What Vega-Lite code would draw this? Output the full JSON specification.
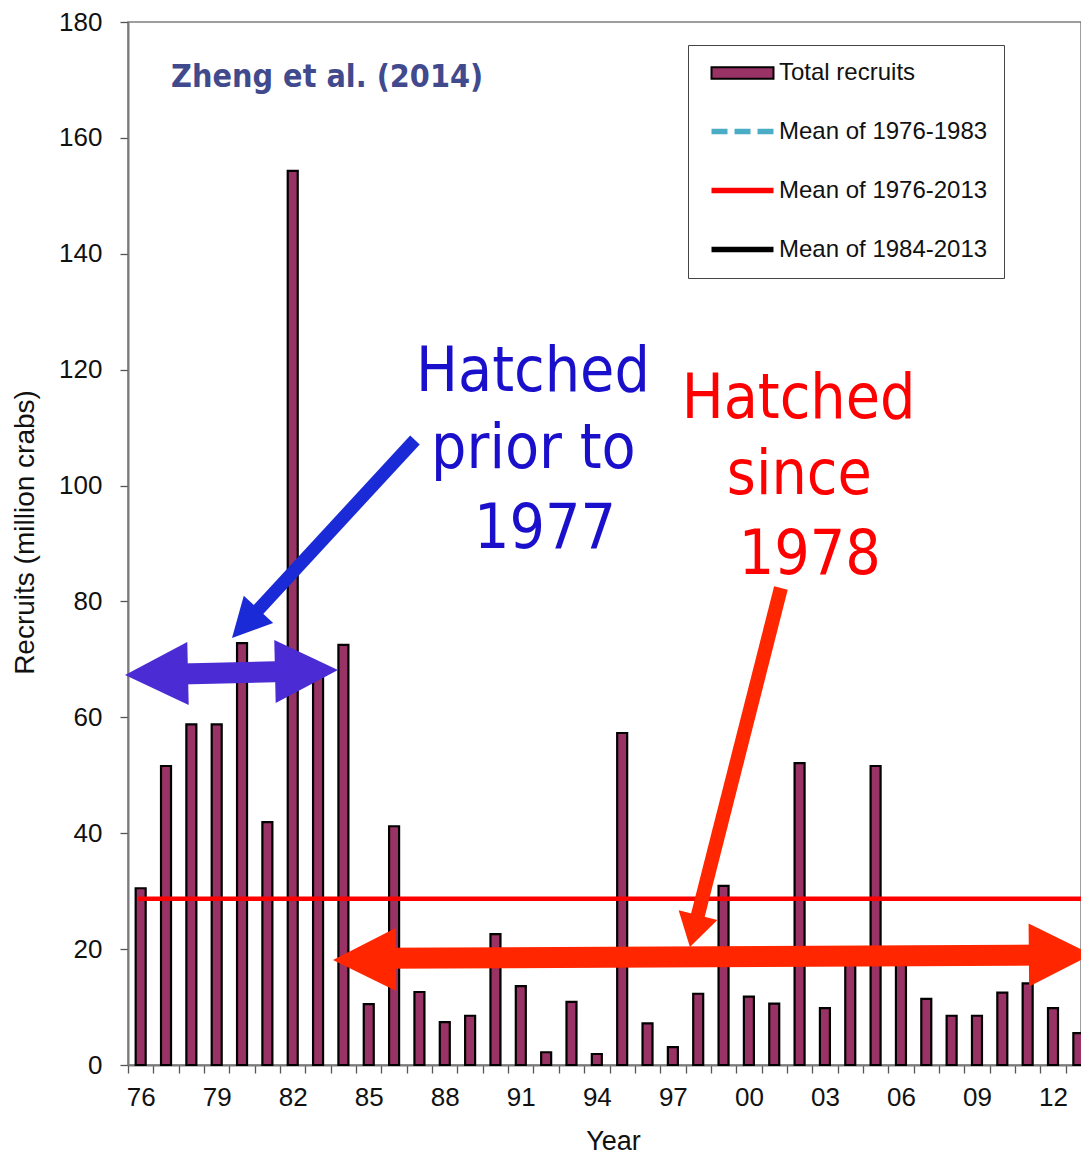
{
  "$schema": "https://vega.github.io/schema/vega-lite/v6.json",
  "width": 953,
  "height": 1043,
  "autosize": "none",
  "padding": {"left": 128, "top": 22, "right": 0, "bottom": 90},
  "background": "white",
  "view": {"stroke": "#7f7f7f", "strokeWidth": 1.5},
  "resolve": {"axis": {"x": "independent"}},
  "datasets": {
    "recruits": [
      {"year": 1976, "recruits": 30.5}, {"year": 1977, "recruits": 51.6}, {"year": 1978, "recruits": 58.8},
      {"year": 1979, "recruits": 58.8}, {"year": 1980, "recruits": 72.8}, {"year": 1981, "recruits": 41.9},
      {"year": 1982, "recruits": 154.3}, {"year": 1983, "recruits": 68.0}, {"year": 1984, "recruits": 72.5},
      {"year": 1985, "recruits": 10.5}, {"year": 1986, "recruits": 41.2}, {"year": 1987, "recruits": 12.6},
      {"year": 1988, "recruits": 7.4}, {"year": 1989, "recruits": 8.5}, {"year": 1990, "recruits": 22.6},
      {"year": 1991, "recruits": 13.6}, {"year": 1992, "recruits": 2.2}, {"year": 1993, "recruits": 10.9},
      {"year": 1994, "recruits": 1.9}, {"year": 1995, "recruits": 57.3}, {"year": 1996, "recruits": 7.2},
      {"year": 1997, "recruits": 3.1}, {"year": 1998, "recruits": 12.3}, {"year": 1999, "recruits": 30.9},
      {"year": 2000, "recruits": 11.8}, {"year": 2001, "recruits": 10.6}, {"year": 2002, "recruits": 52.1},
      {"year": 2003, "recruits": 9.8}, {"year": 2004, "recruits": 19.0}, {"year": 2005, "recruits": 51.6},
      {"year": 2006, "recruits": 18.0}, {"year": 2007, "recruits": 11.4}, {"year": 2008, "recruits": 8.5},
      {"year": 2009, "recruits": 8.5}, {"year": 2010, "recruits": 12.5}, {"year": 2011, "recruits": 14.1},
      {"year": 2012, "recruits": 9.8}, {"year": 2013, "recruits": 5.5}
    ],
    "means": [
      {"series": "Mean of 1976-2013", "start": 1975.9, "end": 2013.5, "value": 28.7}
    ],
    "notes": [
      {"group": "source", "text": "Zheng et al. (2014)", "x": 1977.2, "y": 168.84},
      {"group": "blue", "text": "Hatched", "x": 1991.479, "y": 116.39},
      {"group": "blue", "text": "prior to", "x": 1991.495, "y": 103.03},
      {"group": "blue", "text": "1977", "x": 1991.953, "y": 89.22},
      {"group": "red", "text": "Hatched", "x": 2001.96, "y": 111.66},
      {"group": "red", "text": "since", "x": 2001.99, "y": 98.54},
      {"group": "red", "text": "1978", "x": 2002.4, "y": 84.74}
    ],
    "shafts": [
      {"arrow": "blueH", "x": 1977.157, "y": 67.44, "x2": 1982.089, "y2": 67.94},
      {"arrow": "blueD", "x": 1986.823, "y": 107.86, "x2": 1980.629, "y2": 78.52},
      {"arrow": "redD", "x": 2001.264, "y": 82.32, "x2": 1997.969, "y2": 25.54},
      {"arrow": "redH", "x": 1985.442, "y": 18.41, "x2": 2011.679, "y2": 18.98}
    ],
    "heads": [
      {"head": "blueL", "x": 1975.382, "y": 67.31},
      {"head": "blueR", "x": 1983.785, "y": 68.17},
      {"head": "blueD", "x": 1979.604, "y": 73.69},
      {"head": "redD", "x": 1997.673, "y": 20.36},
      {"head": "redL", "x": 1983.588, "y": 18.12},
      {"head": "redR", "x": 2013.533, "y": 19.07}
    ],
    "yearLabels": [
      {"year": 1976}, {"year": 1979}, {"year": 1982}, {"year": 1985}, {"year": 1988}, {"year": 1991},
      {"year": 1994}, {"year": 1997}, {"year": 2000}, {"year": 2003}, {"year": 2006}, {"year": 2009}, {"year": 2012}
    ],
    "legendEntries": []
  },
  "layer": [
    {
      "data": {"name": "recruits"},
      "mark": {"type": "bar", "size": 10, "fill": "#993366", "stroke": "#000000", "strokeWidth": 2.2},
      "encoding": {
        "x": {
          "field": "year", "type": "quantitative",
          "scale": {"domain": [1975.5, 2013.105], "nice": false, "zero": false, "padding": 0},
          "axis": {
            "orient": "bottom",
            "title": "Year",
            "values": [1975.5, 1976.5, 1977.5, 1978.5, 1979.5, 1980.5, 1981.5, 1982.5, 1983.5, 1984.5, 1985.5, 1986.5, 1987.5, 1988.5, 1989.5, 1990.5, 1991.5, 1992.5, 1993.5, 1994.5, 1995.5, 1996.5, 1997.5, 1998.5, 1999.5, 2000.5, 2001.5, 2002.5, 2003.5, 2004.5, 2005.5, 2006.5, 2007.5, 2008.5, 2009.5, 2010.5, 2011.5, 2012.5],
            "labels": false,
            "tickSize": 8,
            "tickColor": "#555555",
            "tickWidth": 1.3,
            "domainColor": "#7a7a7a",
            "domainWidth": 2,
            "grid": false,
            "titleFont": "Liberation Sans",
            "titleFontSize": 27,
            "titleFontWeight": "normal",
            "titleColor": "#111111",
            "titleX": 485,
            "titleY": 84,
            "titleBaseline": "alphabetic",
            "titleAlign": "center"
          }
        },
        "y": {
          "field": "recruits", "type": "quantitative",
          "scale": {"domain": [0, 180], "nice": false, "padding": 0},
          "axis": {
            "title": "Recruits (million crabs)",
            "values": [0, 20, 40, 60, 80, 100, 120, 140, 160, 180],
            "labelFont": "Liberation Sans",
            "labelFontSize": 26,
            "labelColor": "#111111",
            "labelPadding": 18,
            "tickSize": 8,
            "tickColor": "#555555",
            "tickWidth": 1.3,
            "domainColor": "#7a7a7a",
            "domainWidth": 2,
            "grid": false,
            "titleFont": "Liberation Sans",
            "titleFontSize": 28,
            "titleFontWeight": "normal",
            "titleColor": "#111111",
            "titleAngle": 270,
            "titleX": -103,
            "titleY": 510,
            "titleAlign": "center",
            "titleBaseline": "middle"
          }
        }
      }
    },
    {
      "data": {"name": "legendEntries"},
      "mark": {"type": "point", "opacity": 1},
      "encoding": {
        "fill": {
          "field": "series", "type": "nominal",
          "scale": {"domain": ["Total recruits", "Mean of 1976-1983", "Mean of 1976-2013", "Mean of 1984-2013"], "range": ["#993366", "transparent", "transparent", "transparent"]},
          "legend": {"title": null, "orient": "none", "legendX": 560, "legendY": 23, "padding": 16, "strokeColor": "#444444", "fillColor": "white", "symbolSize": 427, "symbolOffset": 25, "labelOffset": 23, "rowPadding": 33, "labelFont": "Liberation Sans", "labelFontSize": 24, "labelColor": "#111111", "labelLimit": 400}
        },
        "stroke": {
          "field": "series", "type": "nominal",
          "scale": {"domain": ["Total recruits", "Mean of 1976-1983", "Mean of 1976-2013", "Mean of 1984-2013"], "range": ["#000000", "#4BACC6", "#FF0000", "#000000"]},
          "legend": {"title": null, "orient": "none", "legendX": 560, "legendY": 23, "padding": 16, "strokeColor": "#444444", "fillColor": "white", "symbolSize": 427, "symbolOffset": 25, "labelOffset": 23, "rowPadding": 33, "labelFont": "Liberation Sans", "labelFontSize": 24, "labelColor": "#111111", "labelLimit": 400}
        },
        "strokeWidth": {
          "field": "series", "type": "nominal",
          "scale": {"type": "ordinal", "domain": ["Total recruits", "Mean of 1976-1983", "Mean of 1976-2013", "Mean of 1984-2013"], "range": [2, 5.5, 5.5, 5.5]},
          "legend": {"title": null, "orient": "none", "legendX": 560, "legendY": 23, "padding": 16, "strokeColor": "#444444", "fillColor": "white", "symbolSize": 427, "symbolOffset": 25, "labelOffset": 23, "rowPadding": 33, "labelFont": "Liberation Sans", "labelFontSize": 24, "labelColor": "#111111", "labelLimit": 400}
        },
        "strokeDash": {
          "field": "series", "type": "nominal",
          "scale": {"domain": ["Total recruits", "Mean of 1976-1983", "Mean of 1976-2013", "Mean of 1984-2013"], "range": [[1, 0], [16, 7], [1, 0], [1, 0]]},
          "legend": {"title": null, "orient": "none", "legendX": 560, "legendY": 23, "padding": 16, "strokeColor": "#444444", "fillColor": "white", "symbolSize": 427, "symbolOffset": 25, "labelOffset": 23, "rowPadding": 33, "labelFont": "Liberation Sans", "labelFontSize": 24, "labelColor": "#111111", "labelLimit": 400}
        },
        "shape": {
          "field": "series", "type": "nominal",
          "scale": {"domain": ["Total recruits", "Mean of 1976-1983", "Mean of 1976-2013", "Mean of 1984-2013"], "range": ["M-3,-0.55H3V0.55H-3Z", "M-3,0H3", "M-3,0H3", "M-3,0H3"]},
          "legend": {"title": null, "orient": "none", "legendX": 560, "legendY": 23, "padding": 16, "strokeColor": "#444444", "fillColor": "white", "symbolSize": 427, "symbolOffset": 25, "labelOffset": 23, "rowPadding": 33, "labelFont": "Liberation Sans", "labelFontSize": 24, "labelColor": "#111111", "labelLimit": 400}
        }
      }
    },
    {
      "data": {"name": "yearLabels"},
      "mark": {"type": "rule", "opacity": 0},
      "encoding": {
        "x": {
          "field": "year", "type": "quantitative",
          "scale": {"domain": [1975.5, 2013.105], "nice": false, "zero": false, "padding": 0},
          "axis": {
            "orient": "bottom",
            "title": null,
            "values": [1976, 1979, 1982, 1985, 1988, 1991, 1994, 1997, 2000, 2003, 2006, 2009, 2012],
            "labelExpr": "slice(toString(datum.value), 2)",
            "ticks": false,
            "domain": false,
            "grid": false,
            "labelFlush": false,
            "labelOverlap": false,
            "labelBound": false,
            "labelAngle": 0,
            "labelFont": "Liberation Sans",
            "labelFontSize": 26,
            "labelColor": "#111111",
            "labelPadding": 19
          }
        }
      }
    },
    {
      "data": {"name": "means"},
      "mark": {"type": "rule", "strokeWidth": 4.5, "strokeCap": "butt", "color": "#FF0000"},
      "encoding": {
        "x": {"field": "start", "type": "quantitative", "scale": {"domain": [1975.5, 2013.105], "nice": false, "zero": false, "padding": 0}, "axis": null},
        "x2": {"field": "end"},
        "y": {"field": "value", "type": "quantitative", "scale": {"domain": [0, 180], "nice": false, "padding": 0}}
      }
    },
    {
      "data": {"name": "shafts"},
      "transform": [{"filter": "datum.arrow == 'blueH'"}],
      "mark": {"type": "rule", "strokeWidth": 21, "strokeCap": "butt", "color": "#4b2bd4"},
      "encoding": {
        "x": {"field": "x", "type": "quantitative", "scale": {"domain": [1975.5, 2013.105], "nice": false, "zero": false, "padding": 0}, "axis": null}, "x2": {"field": "x2"},
        "y": {"field": "y", "type": "quantitative", "scale": {"domain": [0, 180], "nice": false, "padding": 0}}, "y2": {"field": "y2"}
      }
    },
    {
      "data": {"name": "shafts"},
      "transform": [{"filter": "datum.arrow == 'blueD'"}],
      "mark": {"type": "rule", "strokeWidth": 13, "strokeCap": "butt", "color": "#1a2ad6"},
      "encoding": {
        "x": {"field": "x", "type": "quantitative", "scale": {"domain": [1975.5, 2013.105], "nice": false, "zero": false, "padding": 0}, "axis": null}, "x2": {"field": "x2"},
        "y": {"field": "y", "type": "quantitative", "scale": {"domain": [0, 180], "nice": false, "padding": 0}}, "y2": {"field": "y2"}
      }
    },
    {
      "data": {"name": "shafts"},
      "transform": [{"filter": "datum.arrow == 'redD'"}],
      "mark": {"type": "rule", "strokeWidth": 14, "strokeCap": "butt", "color": "#ff2600"},
      "encoding": {
        "x": {"field": "x", "type": "quantitative", "scale": {"domain": [1975.5, 2013.105], "nice": false, "zero": false, "padding": 0}, "axis": null}, "x2": {"field": "x2"},
        "y": {"field": "y", "type": "quantitative", "scale": {"domain": [0, 180], "nice": false, "padding": 0}}, "y2": {"field": "y2"}
      }
    },
    {
      "data": {"name": "shafts"},
      "transform": [{"filter": "datum.arrow == 'redH'"}],
      "mark": {"type": "rule", "strokeWidth": 21, "strokeCap": "butt", "color": "#ff2600"},
      "encoding": {
        "x": {"field": "x", "type": "quantitative", "scale": {"domain": [1975.5, 2013.105], "nice": false, "zero": false, "padding": 0}, "axis": null}, "x2": {"field": "x2"},
        "y": {"field": "y", "type": "quantitative", "scale": {"domain": [0, 180], "nice": false, "padding": 0}}, "y2": {"field": "y2"}
      }
    },
    {
      "data": {"name": "heads"},
      "transform": [{"filter": "datum.head == 'blueL'"}],
      "mark": {"type": "point", "shape": "M0,0L-2,-1L-2,1Z", "size": 3969, "angle": 178.7, "filled": true, "fill": "#4b2bd4", "strokeWidth": 0, "opacity": 1},
      "encoding": {"x": {"field": "x", "type": "quantitative", "scale": {"domain": [1975.5, 2013.105], "nice": false, "zero": false, "padding": 0}, "axis": null}, "y": {"field": "y", "type": "quantitative", "scale": {"domain": [0, 180], "nice": false, "padding": 0}}}
    },
    {
      "data": {"name": "heads"},
      "transform": [{"filter": "datum.head == 'blueR'"}],
      "mark": {"type": "point", "shape": "M0,0L-2,-1L-2,1Z", "size": 3969, "angle": -1.3, "filled": true, "fill": "#4b2bd4", "strokeWidth": 0, "opacity": 1},
      "encoding": {"x": {"field": "x", "type": "quantitative", "scale": {"domain": [1975.5, 2013.105], "nice": false, "zero": false, "padding": 0}, "axis": null}, "y": {"field": "y", "type": "quantitative", "scale": {"domain": [0, 180], "nice": false, "padding": 0}}}
    },
    {
      "data": {"name": "heads"},
      "transform": [{"filter": "datum.head == 'blueD'"}],
      "mark": {"type": "point", "shape": "M0,0L-1.95,-1L-1.95,1Z", "size": 1600, "angle": 132.75, "filled": true, "fill": "#1a2ad6", "strokeWidth": 0, "opacity": 1},
      "encoding": {"x": {"field": "x", "type": "quantitative", "scale": {"domain": [1975.5, 2013.105], "nice": false, "zero": false, "padding": 0}, "axis": null}, "y": {"field": "y", "type": "quantitative", "scale": {"domain": [0, 180], "nice": false, "padding": 0}}}
    },
    {
      "data": {"name": "heads"},
      "transform": [{"filter": "datum.head == 'redD'"}],
      "mark": {"type": "point", "shape": "M0,0L-1.65,-1L-1.65,1Z", "size": 1600, "angle": 104.2, "filled": true, "fill": "#ff2600", "strokeWidth": 0, "opacity": 1},
      "encoding": {"x": {"field": "x", "type": "quantitative", "scale": {"domain": [1975.5, 2013.105], "nice": false, "zero": false, "padding": 0}, "axis": null}, "y": {"field": "y", "type": "quantitative", "scale": {"domain": [0, 180], "nice": false, "padding": 0}}}
    },
    {
      "data": {"name": "heads"},
      "transform": [{"filter": "datum.head == 'redL'"}],
      "mark": {"type": "point", "shape": "M0,0L-2,-1L-2,1Z", "size": 3969, "angle": 179.55, "filled": true, "fill": "#ff2600", "strokeWidth": 0, "opacity": 1},
      "encoding": {"x": {"field": "x", "type": "quantitative", "scale": {"domain": [1975.5, 2013.105], "nice": false, "zero": false, "padding": 0}, "axis": null}, "y": {"field": "y", "type": "quantitative", "scale": {"domain": [0, 180], "nice": false, "padding": 0}}}
    },
    {
      "data": {"name": "heads"},
      "transform": [{"filter": "datum.head == 'redR'"}],
      "mark": {"type": "point", "shape": "M0,0L-2,-1L-2,1Z", "size": 3969, "angle": -0.45, "filled": true, "fill": "#ff2600", "strokeWidth": 0, "opacity": 1},
      "encoding": {"x": {"field": "x", "type": "quantitative", "scale": {"domain": [1975.5, 2013.105], "nice": false, "zero": false, "padding": 0}, "axis": null}, "y": {"field": "y", "type": "quantitative", "scale": {"domain": [0, 180], "nice": false, "padding": 0}}}
    },
    {
      "data": {"name": "notes"},
      "transform": [{"filter": "datum.group == 'source'"}],
      "mark": {"type": "text", "align": "left", "baseline": "alphabetic", "font": "DejaVu Sans Condensed", "fontWeight": "bold", "fontSize": 32, "color": "#414a8c"},
      "encoding": {"x": {"field": "x", "type": "quantitative", "scale": {"domain": [1975.5, 2013.105], "nice": false, "zero": false, "padding": 0}, "axis": null}, "y": {"field": "y", "type": "quantitative", "scale": {"domain": [0, 180], "nice": false, "padding": 0}}, "text": {"field": "text"}}
    },
    {
      "data": {"name": "notes"},
      "transform": [{"filter": "datum.group == 'blue'"}],
      "mark": {"type": "text", "align": "center", "baseline": "alphabetic", "font": "DejaVu Sans Condensed", "fontSize": 62, "color": "#1a0fcb"},
      "encoding": {"x": {"field": "x", "type": "quantitative", "scale": {"domain": [1975.5, 2013.105], "nice": false, "zero": false, "padding": 0}, "axis": null}, "y": {"field": "y", "type": "quantitative", "scale": {"domain": [0, 180], "nice": false, "padding": 0}}, "text": {"field": "text"}}
    },
    {
      "data": {"name": "notes"},
      "transform": [{"filter": "datum.group == 'red'"}],
      "mark": {"type": "text", "align": "center", "baseline": "alphabetic", "font": "DejaVu Sans Condensed", "fontSize": 62, "color": "#ff0000"},
      "encoding": {"x": {"field": "x", "type": "quantitative", "scale": {"domain": [1975.5, 2013.105], "nice": false, "zero": false, "padding": 0}, "axis": null}, "y": {"field": "y", "type": "quantitative", "scale": {"domain": [0, 180], "nice": false, "padding": 0}}, "text": {"field": "text"}}
    }
  ]
}
